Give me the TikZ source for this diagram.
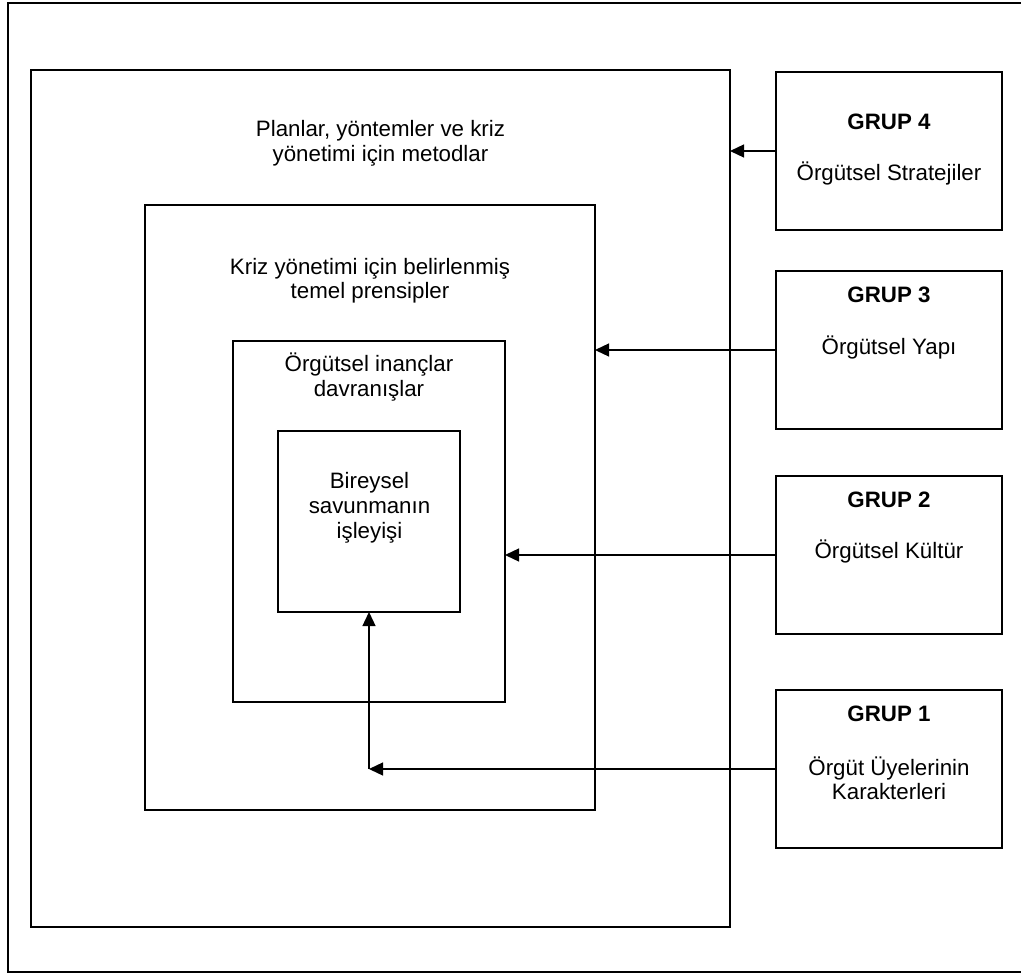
\documentclass[tikz,border=0pt]{standalone}
\usepackage{fontspec}
\setmainfont{Liberation Sans}
\usetikzlibrary{arrows.meta}
\begin{document}
\begin{tikzpicture}[x=1pt,y=-1pt,
  box/.style={draw, line width=1.3pt, rectangle, inner sep=0pt, outer sep=0pt},
  lbl/.style={anchor=base, inner sep=0pt, font=\fontsize{22.3}{25}\selectfont},
  glbl/.style={anchor=base, inner sep=0pt, font=\fontsize{22.3}{25}\selectfont\bfseries},
  arr/.style={line width=1.3pt, -{Triangle[length=14pt,width=13pt]}}]
\useasboundingbox (0,0) rectangle (1021,974);

% page frame
\node[box, minimum width=1016pt, minimum height=969pt] (frame) at (516,487.5) {};

% nested levels
\node[box, minimum width=699pt, minimum height=857pt] (L1) at (380.5,498.5) {};
\node[box, minimum width=450pt, minimum height=605pt] (L2) at (370,507.5) {};
\node[box, minimum width=272pt, minimum height=361pt] (L3) at (369,521.5) {};
\node[box, minimum width=182pt, minimum height=181pt] (L4) at (369,521.5) {};

% groups
\node[box, minimum width=226pt, minimum height=158pt] (G4) at (889,151) {};
\node[box, minimum width=226pt, minimum height=158pt] (G3) at (889,350) {};
\node[box, minimum width=226pt, minimum height=158pt] (G2) at (889,555) {};
\node[box, minimum width=226pt, minimum height=158pt] (G1) at (889,769) {};

% level texts
\node[lbl] (t1a) at (380.5,136.5) {Planlar, yöntemler ve kriz};
\node[lbl] (t1b) at (380.5,161.5) {yönetimi için metodlar};
\node[lbl] (t2a) at (370,274) {Kriz yönetimi için belirlenmiş};
\node[lbl] (t2b) at (370,298.5) {temel prensipler};
\node[lbl] (t3a) at (369,371.5) {Örgütsel inançlar};
\node[lbl] (t3b) at (369,396.5) {davranışlar};
\node[lbl] (t4a) at (369.5,488) {Bireysel};
\node[lbl] (t4b) at (369.5,513) {savunmanın};
\node[lbl] (t4c) at (369.5,538) {işleyişi};

% group texts
\node[glbl] (g4h) at (889,129.5) {GRUP 4};
\node[lbl]  (g4t) at (889,180.5) {Örgütsel Stratejiler};
\node[glbl] (g3h) at (889,302.5) {GRUP 3};
\node[lbl]  (g3t) at (889,354) {Örgütsel Yapı};
\node[glbl] (g2h) at (889,507) {GRUP 2};
\node[lbl]  (g2t) at (889,558) {Örgütsel Kültür};
\node[glbl] (g1h) at (889,721.5) {GRUP 1};
\node[lbl]  (g1t) at (889,775) {Örgüt Üyelerinin};
\node[lbl]  (g1u) at (889,799.5) {Karakterleri};

% connectors
\draw[arr] (G4.west) -- (G4.west -| L1.east);
\draw[arr] (G3.west) -- (G3.west -| L2.east);
\draw[arr] (G2.west) -- (G2.west -| L3.east);
\coordinate (bend) at (L4.south |- G1.west);
\draw[arr] (G1.west) -- (bend);
\draw[arr] (bend) -- (L4.south);
\end{tikzpicture}
\end{document}
